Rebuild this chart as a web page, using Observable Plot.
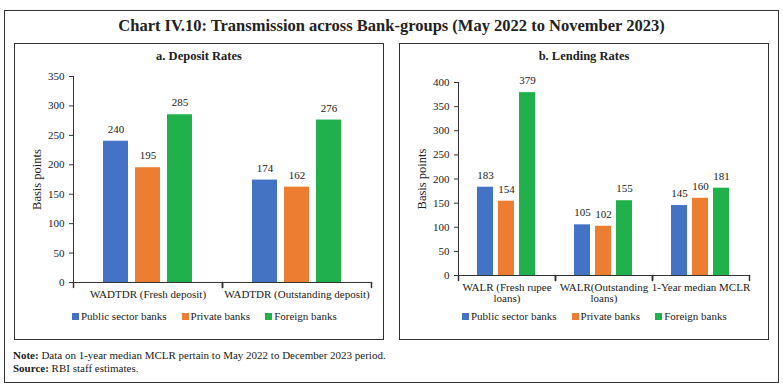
<!DOCTYPE html>
<html><head><meta charset="utf-8">
<script src="https://cdn.jsdelivr.net/npm/d3@7"></script>
<script src="https://cdn.jsdelivr.net/npm/@observablehq/plot@0.6"></script>
<style>
body{margin:0;background:#fff;font-family:"Liberation Serif",serif;color:#222;}
#root{position:relative;width:783px;height:388px;overflow:hidden;}
.box{position:absolute;border:1px solid #333;box-sizing:border-box;}
.abs{position:absolute;white-space:nowrap;}
.title{left:0;width:783px;text-align:center;top:16px;font-size:16.5px;font-weight:bold;}
.sub{font-size:12.5px;font-weight:bold;text-align:center;width:370px;top:49px;}
.legend{font-size:11px;display:flex;align-items:center;top:310px;}
.legend .item{display:flex;align-items:center;margin-right:15px;}
.legend .sw{width:7px;height:7px;margin-right:2px;}
.note{font-size:11px;left:13px;}
</style></head><body><div id="root"></div>
<script>
// ---- data ----
const seriesNames = ["Public sector banks", "Private banks", "Foreign banks"];
const seriesColors = ["#4472C4", "#ED7D31", "#21B14C"];

const depositCategories = ["WADTDR (Fresh deposit)", "WADTDR (Outstanding deposit)"];
const depositPublic = [240, 174];
const depositPrivate = [195, 162];
const depositForeign = [285, 276];
const depositTicks = [0, 50, 100, 150, 200, 250, 300, 350];

const lendingCategories = ["WALR (Fresh rupee\nloans)", "WALR(Outstanding\nloans)", "1-Year median MCLR"];
const lendingPublic = [183, 105, 145];
const lendingPrivate = [154, 102, 160];
const lendingForeign = [379, 155, 181];
const lendingTicks = [0, 50, 100, 150, 200, 250, 300, 350, 400];

const titleText = "Chart IV.10: Transmission across Bank-groups (May 2022 to November 2023)";
const subA = "a. Deposit Rates";
const subB = "b. Lending Rates";
const yLabel = "Basis points";
const noteText = "Data on 1-year median MCLR pertain to May 2022 to December 2023 period.";
const sourceText = "RBI staff estimates.";

// ---- drawing ----
const root = document.getElementById("root");
function el(tag, cls, css, html) {
  const e = document.createElement(tag);
  if (cls) e.className = cls;
  if (css) Object.assign(e.style, css);
  if (html != null) e.innerHTML = html;
  root.appendChild(e);
  return e;
}

el("div", "box", {left: "4px", top: "10px", width: "775px", height: "373px"});
el("div", "abs title", null, titleText);
el("div", "box", {left: "14px", top: "43px", width: "370px", height: "297px"});
el("div", "box", {left: "399px", top: "43px", width: "370px", height: "297px"});
el("div", "abs sub", {left: "14px"}, subA);
el("div", "abs sub", {left: "399px"}, subB);

const tickShape = {draw(context, l) { context.moveTo(0, 0); context.lineTo(0, -l); }};

function panel(cats, series, ticks, o) {
  const rows = [];
  cats.forEach((c, i) => series.forEach((vals, k) => rows.push({cat: c, series: seriesNames[k], value: vals[i]})));
  return Plot.plot({
    width: o.width, height: o.height,
    marginLeft: o.ml, marginRight: o.mr, marginTop: o.mt, marginBottom: o.mb,
    style: {fontFamily: "'Liberation Serif', serif", fontSize: "11px", color: "#222", background: "transparent", overflow: "visible"},
    fx: {domain: cats, padding: 0, axis: null},
    x: {domain: seriesNames, paddingInner: o.pi, paddingOuter: o.po, axis: null},
    y: {domain: [0, ticks[ticks.length - 1]], axis: null},
    color: {domain: seriesNames, range: seriesColors},
    marks: [
      Plot.barY(rows, {fx: "cat", x: "series", y: "value", fill: "series"}),
      Plot.text(rows, {fx: "cat", x: "series", y: "value", text: d => String(d.value), dy: -12, fill: "#222"}),
      Plot.ruleY([0], {stroke: "#333"}),
      Plot.axisY({ticks, tickSize: 4, tickPadding: 5, label: null, stroke: "#333", fontSize: 11}),
      Plot.axisY({ticks: [], tickSize: 0, label: yLabel, labelAnchor: "center", labelArrow: false, labelOffset: o.lo, fontSize: 12.5}),
      Plot.frame({anchor: "left", facetAnchor: "left", stroke: "#333"}),
      Plot.axisFx({anchor: "bottom", tickSize: 0, tickPadding: 8, label: null, lineAnchor: "top", fontSize: 11}),
      Plot.vector([0], {frameAnchor: "bottom-left", length: 5, rotate: 180, anchor: "start", shape: tickShape, stroke: "#333"}),
      Plot.vector([0], {frameAnchor: "bottom-right", length: 5, rotate: 180, anchor: "start", shape: tickShape, stroke: "#333"})
    ]
  });
}

const a = panel(depositCategories, [depositPublic, depositPrivate, depositForeign], depositTicks,
  {width: 369, height: 240, ml: 58, mr: 12, mt: 10, mb: 24, pi: 0.212, po: 0.88, lo: 41});
Object.assign(a.style, {position: "absolute", left: "14px", top: "66px"});
root.appendChild(a);

const b = panel(lendingCategories, [lendingPublic, lendingPrivate, lendingForeign], lendingTicks,
  {width: 369, height: 240, ml: 59, mr: 19, mt: 16, mb: 31, pi: 0.227, po: 0.82, lo: 41});
Object.assign(b.style, {position: "absolute", left: "399px", top: "66px"});
root.appendChild(b);

function legend(left) {
  const html = seriesNames.map((n, i) =>
    `<span class="item"><span class="sw" style="background:${seriesColors[i]}"></span>${n}</span>`).join("");
  el("div", "abs legend", {left: left + "px"}, html);
}
legend(72);
legend(462);

el("div", "abs note", {top: "349px"}, "<b>Note:</b> " + noteText);
el("div", "abs note", {top: "362px"}, "<b>Source:</b> " + sourceText);
</script>
</body></html>
